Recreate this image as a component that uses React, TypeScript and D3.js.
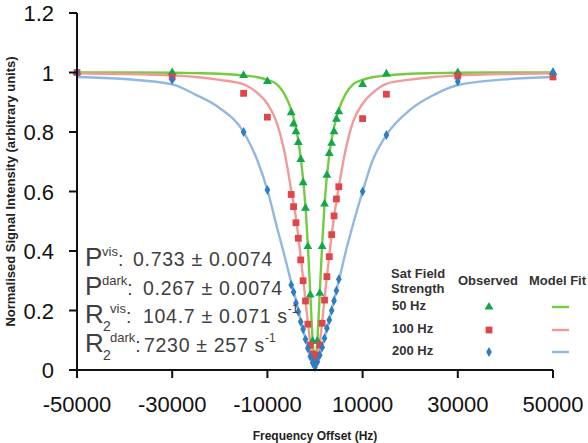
import React from "react";
import * as d3 from "d3";

// ---------- data ----------
const obsFreq = [-50000, -30000, -15000, -10000, -5000, -4500, -4000, -3500, -3000, -2500, -2000, -1500, -1000, -500, 0, 500, 1000, 1500, 2000, 2500, 3000, 3500, 4000, 4500, 5000, 10000, 15000, 30000, 50000];
const obs50 = [1.0, 1.0, 0.99, 0.97, 0.865, 0.827, 0.801, 0.765, 0.708, 0.63, 0.544, 0.415, 0.252, 0.097, 0.045, 0.097, 0.258, 0.415, 0.558, 0.655, 0.728, 0.762, 0.801, 0.843, 0.868, 0.96, 0.995, 1.0, 1.0];
const obs100 = [1.0, 0.985, 0.93, 0.85, 0.59, 0.549, 0.495, 0.443, 0.37, 0.3, 0.232, 0.154, 0.084, 0.054, 0.028, 0.05, 0.084, 0.157, 0.235, 0.314, 0.381, 0.455, 0.518, 0.575, 0.616, 0.845, 0.927, 0.988, 0.985];
const obs200 = [1.0, 0.975, 0.8, 0.605, 0.286, 0.262, 0.225, 0.196, 0.162, 0.137, 0.103, 0.073, 0.045, 0.024, 0.01, 0.028, 0.05, 0.076, 0.107, 0.14, 0.168, 0.2, 0.233, 0.267, 0.305, 0.6, 0.79, 0.97, 1.0];

const fitFreq = [-50000, -40000, -30000, -25000, -20000, -15000, -12000, -10000, -8000, -6500, -5000, -4000, -3000, -2000, -1500, -1000, -500, 0, 500, 1000, 1500, 2000, 3000, 4000, 5000, 6500, 8000, 10000, 12000, 15000, 20000, 25000, 30000, 40000, 50000];
const fit50 = [1.0, 1.0, 0.999, 0.998, 0.996, 0.99, 0.984, 0.975, 0.96, 0.93, 0.875, 0.815, 0.715, 0.55, 0.42, 0.26, 0.1, 0.02, 0.1, 0.26, 0.42, 0.555, 0.725, 0.815, 0.875, 0.93, 0.96, 0.975, 0.984, 0.99, 0.996, 0.998, 0.999, 1.0, 1.0];
const fit100 = [0.997, 0.995, 0.99, 0.985, 0.975, 0.96, 0.93, 0.895, 0.83, 0.74, 0.605, 0.51, 0.38, 0.235, 0.16, 0.09, 0.04, 0.02, 0.045, 0.09, 0.16, 0.24, 0.385, 0.515, 0.615, 0.745, 0.835, 0.895, 0.93, 0.962, 0.976, 0.985, 0.99, 0.995, 0.997];
const fit200 = [0.985, 0.978, 0.96, 0.925, 0.88, 0.8, 0.7, 0.605, 0.48, 0.39, 0.295, 0.235, 0.165, 0.105, 0.075, 0.047, 0.025, 0.012, 0.027, 0.05, 0.078, 0.108, 0.17, 0.235, 0.3, 0.4, 0.49, 0.6, 0.7, 0.79, 0.875, 0.925, 0.958, 0.977, 0.985];

const xTicks = [-50000, -30000, -10000, 10000, 30000, 50000];
const yTicks = [0, 0.2, 0.4, 0.6, 0.8, 1, 1.2];

const fieldLabels = ["50 Hz", "100 Hz", "200 Hz"];
const paramLetters = ["P", "P", "R", "R"];
const paramSups = ["vis", "dark", "vis", "dark"];
const paramSubs = ["", "", "2", "2"];
const paramValues = ["0.733 \u00b1 0.0074", "0.267 \u00b1 0.0074", "104.7 \u00b1 0.071", "7230 \u00b1 257"];
const paramUnits = ["", "", "s", "s"];

// ---------- styles ----------
const FONT = "'Liberation Sans', Arial, sans-serif";
const markerColors = ["#14a64a", "#e0454a", "#2d7cc6"];
const lineColors = ["#74cc40", "#f29a9a", "#92b7e0"];
const symbols = [d3.symbolTriangle, d3.symbolSquare, d3.symbolDiamond];
const symbolSizes = [34, 46, 28];

export default function App() {
  const W = 588, H = 443;
  const x = d3.scaleLinear().domain([-50000, 50000]).range([77, 553]);
  const y = d3.scaleLinear().domain([0, 1.2]).range([370, 13]);

  const line = d3
    .line<[number, number]>()
    .x((d) => x(d[0]))
    .y((d) => y(d[1]))
    .curve(d3.curveMonotoneX);

  const fits = [fit50, fit100, fit200];
  const obs = [obs50, obs100, obs200];

  const sym = (i: number) => d3.symbol().type(symbols[i]).size(symbolSizes[i])() as string;

  const paramBase = [266, 295, 323, 352];
  const valueX = [133, 143, 143, 144];
  const textColor = "#404040";

  const legendRows = [310, 333, 355];

  return (
    <svg
      width={W}
      height={H}
      style={{ position: "absolute", left: 0, top: 0, background: "#fff" }}
      fontFamily={FONT}
    >
      <rect width={W} height={H} fill="#fff" />

      {/* fit lines */}
      {fits.map((f, i) => (
        <path
          key={"fit" + i}
          d={line(fitFreq.map((fx, j) => [fx, f[j]] as [number, number])) as string}
          fill="none"
          stroke={lineColors[i]}
          strokeWidth={2.4}
        />
      ))}

      {/* observed markers */}
      {obs.map((o, i) =>
        obsFreq.map((fx, j) => (
          <path
            key={"m" + i + "-" + j}
            d={sym(i)}
            transform={`translate(${x(fx)},${y(o[j])})`}
            fill={markerColors[i]}
          />
        ))
      )}

      {/* axes */}
      <line x1={x(-50000)} x2={x(-50000)} y1={y(1.2)} y2={y(0)} stroke="#111" strokeWidth={2} />
      <line x1={x(-50000) - 8} x2={x(50000)} y1={y(0)} y2={y(0)} stroke="#111" strokeWidth={2} />
      {yTicks.map((t) => (
        <g key={"yt" + t}>
          <line x1={x(-50000) - 8} x2={x(-50000)} y1={y(t)} y2={y(t)} stroke="#111" strokeWidth={2} />
          <text x={54} y={y(t) + 8} textAnchor="end" fontSize={22} fill="#111">
            {String(t)}
          </text>
        </g>
      ))}
      {xTicks.map((t) => (
        <g key={"xt" + t}>
          <line x1={x(t)} x2={x(t)} y1={y(0)} y2={y(0) + 8} stroke="#111" strokeWidth={2} />
          <text x={x(t)} y={412} textAnchor="middle" fontSize={22} fill="#111">
            {String(t)}
          </text>
        </g>
      ))}

      {/* axis titles */}
      <text x={315} y={440} textAnchor="middle" fontSize={12} fontWeight="bold" fill="#222">
        Frequency Offset (Hz)
      </text>
      <text
        transform={`translate(15,${(y(0) + y(1.2)) / 2}) rotate(-90)`}
        textAnchor="middle"
        fontSize={13}
        fontWeight="bold"
        fill="#222"
      >
        Normalised Signal Intensity (arbitrary units)
      </text>

      {/* parameter annotations */}
      {paramLetters.map((L, i) => {
        const b = paramBase[i];
        const isR = paramSubs[i] !== "";
        return (
          <g key={"p" + i} fill={textColor}>
            <text x={85} y={b} fontSize={26}>
              {L}
            </text>
            {isR && (
              <text x={103} y={b + 8} fontSize={14}>
                {paramSubs[i]}
              </text>
            )}
            <text x={isR ? 110 : 102} y={b - 10} fontSize={13}>
              {paramSups[i]}
              <tspan dy={10} fontSize={19.5}>
                :
              </tspan>
            </text>
            <text x={valueX[i]} y={b} fontSize={19.5} letterSpacing={0.7}>
              {paramValues[i]}
              {paramUnits[i] && (
                <>
                  <tspan>{" " + paramUnits[i]}</tspan>
                  <tspan dy={-10} fontSize={12} letterSpacing={0}>
                    -1
                  </tspan>
                </>
              )}
            </text>
          </g>
        );
      })}

      {/* legend */}
      <g fontSize={13} fontWeight="bold" fill="#333">
        <text x={391} y={278}>Sat Field</text>
        <text x={391} y={293}>Strength</text>
        <text x={458} y={285}>Observed</text>
        <text x={529} y={285}>Model Fit</text>
        {fieldLabels.map((lab, i) => (
          <g key={"lg" + i}>
            <text x={392} y={legendRows[i]}>{lab}</text>
            <path d={sym(i)} transform={`translate(489,${legendRows[i] - 3})`} fill={markerColors[i]} />
            <line x1={552} x2={569} y1={legendRows[i] - 3} y2={legendRows[i] - 3} stroke={lineColors[i]} strokeWidth={2.4} />
          </g>
        ))}
      </g>
    </svg>
  );
}
